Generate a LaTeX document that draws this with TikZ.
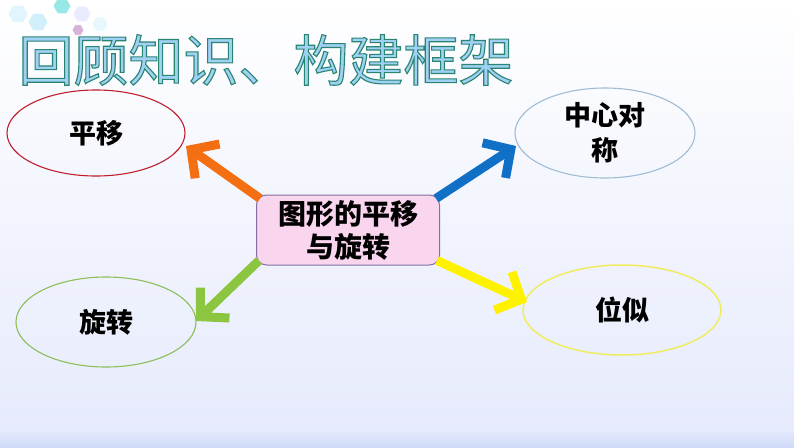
\documentclass[tikz,border=0pt]{standalone}
\usepackage{fontspec}
\newfontfamily\cjk{Noto Sans CJK SC}
\usetikzlibrary{shapes.geometric,arrows.meta}
\definecolor{bgbot}{RGB}{229,234,252}
\definecolor{band}{RGB}{206,218,248}
\definecolor{ored}{RGB}{192,32,46}
\definecolor{oblue}{RGB}{160,188,212}
\definecolor{ogreen}{RGB}{141,190,90}
\definecolor{oyellow}{RGB}{240,236,96}
\definecolor{aorange}{RGB}{244,110,18}
\definecolor{ablue}{RGB}{16,112,198}
\definecolor{agreen}{RGB}{140,198,64}
\definecolor{ayellow}{RGB}{255,242,0}
\definecolor{boxfill}{RGB}{249,213,238}
\definecolor{boxdraw}{RGB}{130,112,160}
\definecolor{titlefill}{RGB}{160,208,244}
\newcommand\outlinedtitle[1]{\special{pdf:literal direct 2 Tr 0.16 0.52 0.44 RG 1.1 w}#1\special{pdf:literal direct 0 Tr}}
\tikzset{
  oval/.style={ellipse, draw, line width=1.1pt, inner sep=0pt, font=\cjk\bfseries\fontsize{27}{35}\selectfont, align=center, text=black},
  centerbox/.style={draw=boxdraw, fill=boxfill, line width=1pt, rounded corners=10pt, minimum width=183pt, minimum height=70pt, inner sep=0pt, align=center, font=\cjk\bfseries\fontsize{28}{33}\selectfont},
  bigarrow/.style={line width=9pt, -{Straight Barb[length=20pt,width=42pt]}},
  titletext/.style={font=\cjk\fontsize{55}{60}\selectfont, inner sep=0pt, text=titlefill},
  hexa/.style={regular polygon, regular polygon sides=6, inner sep=0pt, minimum size=#1, draw=white, line width=0.6pt}
}
\begin{document}
\begin{tikzpicture}[x=1pt,y=-1pt]
\useasboundingbox (0,0) rectangle (794,447);
\shade[top color=white, bottom color=bgbot] (0,0) rectangle (794,447);
\shade[top color=bgbot, bottom color=band] (0,430) rectangle (794,447);
% decorative hexagons
\node[hexa=20pt, fill=cyan!12] (h1) at (18,14) {};
\node[hexa=20pt, fill=cyan!18] (h2) at (38,22) {};
\node[hexa=18pt, fill=teal!45!cyan!40] (h3) at (62,6) {};
\node[hexa=18pt, fill=blue!8] (h4) at (82,14) {};
\node[hexa=16pt, fill=cyan!10] (h5) at (100,24) {};
\node[hexa=12pt, fill=violet!30] (h6) at (78,30) {};
% title
\node[titletext] (tt) at (266,60) {\outlinedtitle{回顾知识、构建框架}};
% ovals
\node[oval, draw=ored, minimum width=178pt, minimum height=86pt] (py) at (96,133) {平移};
\node[oval, draw=oblue, minimum width=180pt, minimum height=90pt] (zx) at (605,133) {中心对\\称};
\node[oval, draw=ogreen, minimum width=180pt, minimum height=90pt] (xz) at (106,322) {旋转};
\node[oval, draw=oyellow, line width=1.5pt, minimum width=198pt, minimum height=90pt] (ws) at (622,310) {位似};
% center
\node[centerbox] (c) at (348,230) {图形的平移\\与旋转};
% arrow tips
\coordinate (t1) at (186,146);
\coordinate (t2) at (516,146);
\coordinate (t3) at (196,321);
\coordinate (t4) at (527,302);
\draw[bigarrow, aorange] ([shift={(4,4)}]c.north west) -- (t1);
\draw[bigarrow, ablue] ([shift={(-4,4)}]c.north east) -- (t2);
\draw[bigarrow, agreen] ([shift={(3,-5)}]c.south west) -- (t3);
\draw[bigarrow, ayellow] ([shift={(-3,-5)}]c.south east) -- (t4);
\end{tikzpicture}
\end{document}
